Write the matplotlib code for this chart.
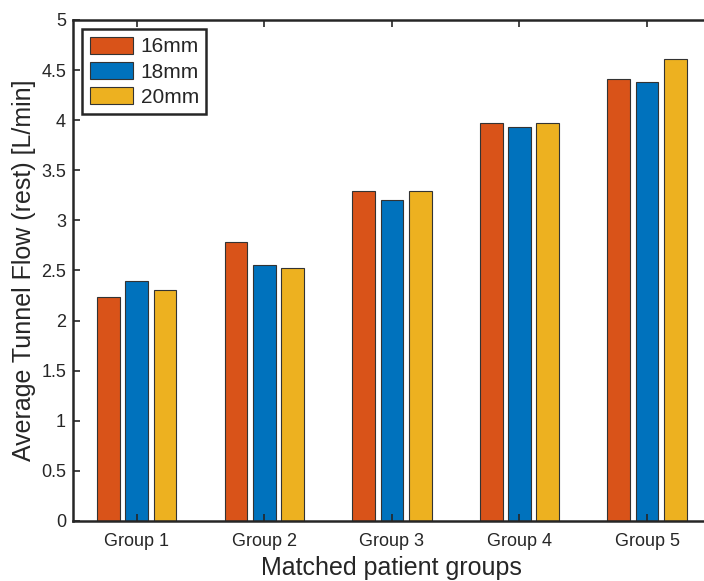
import numpy as np
import matplotlib
matplotlib.use("Agg")
import matplotlib.pyplot as plt

plt.rcParams['font.family'] = ['Liberation Sans', 'DejaVu Sans']

groups = ["Group 1", "Group 2", "Group 3", "Group 4", "Group 5"]
series = ["16mm", "18mm", "20mm"]
flow_16 = [2.24, 2.78, 3.29, 3.97, 4.41]
flow_18 = [2.40, 2.55, 3.20, 3.93, 4.38]
flow_20 = [2.31, 2.52, 3.29, 3.97, 4.61]
colors = ["#D95319", "#0072BD", "#EDB120"]

fig = plt.figure(figsize=(7.04, 5.81), dpi=100)
ax = fig.add_axes([0.1037, 0.1033, 0.906, 0.8623])

x = np.arange(1, len(groups) + 1)
step = 0.222
width = 0.178
for i, (vals, name) in enumerate(zip([flow_16, flow_18, flow_20], series)):
    ax.bar(x + (i - 1) * step, vals, width, color=colors[i], edgecolor="#333333",
           linewidth=0.8, label=name)

ax.set_xlim(0.5, 5.5)
ax.set_ylim(0, 5)
ax.set_xticks(x)
ax.set_xticklabels(groups)
ax.set_yticks(np.arange(0, 5.01, 0.5))
ax.set_yticklabels(["0", "0.5", "1", "1.5", "2", "2.5", "3", "3.5", "4", "4.5", "5"])
ax.tick_params(direction="in", length=5, width=1.2, colors="#262626", labelsize=13,
               top=True, right=True, pad=5)
ax.tick_params(axis="x", pad=9)
for s in ax.spines.values():
    s.set_linewidth(1.8)
    s.set_color("#262626")

ax.set_xlabel("Matched patient groups", fontsize=18, color="#262626", labelpad=4)
ax.set_ylabel("Average Tunnel Flow (rest) [L/min]", fontsize=18, color="#262626", labelpad=4)

leg = ax.legend(loc="upper left", fontsize=15, handlelength=2.1, handleheight=0.9,
                handletextpad=0.35, labelspacing=0.25, borderpad=0.35,
                borderaxespad=0.45, fancybox=False, framealpha=1)
leg.get_frame().set_edgecolor("#262626")
leg.get_frame().set_linewidth(1.8)
for t in leg.get_texts():
    t.set_color("#262626")

fig.savefig("out.png", dpi=100)
